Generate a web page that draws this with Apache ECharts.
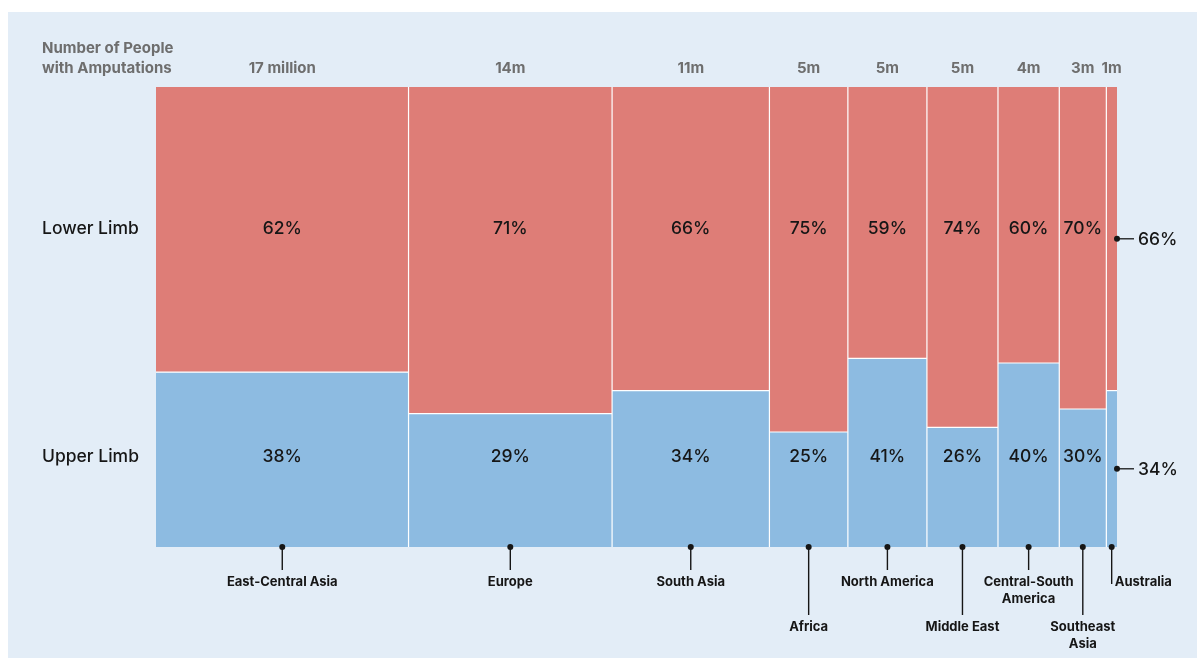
<!DOCTYPE html>
<html><head><meta charset="utf-8">
<script src="https://cdn.jsdelivr.net/npm/echarts@6/dist/echarts.min.js"></script>
<style>html,body{margin:0;padding:0;background:#fff}#c{width:1197px;height:658px}</style>
</head><body><div id="c"></div>
<script>
// ---- data ----
const regions = ['East-Central Asia','Europe','South Asia','Africa','North America','Middle East','Central-South America','Southeast Asia','Australia'];
const regionLabels = ['East-Central Asia','Europe','South Asia','Africa','North America','Middle East','Central-South\nAmerica','Southeast\nAsia','Australia'];
const peopleMillions = [17.06, 13.75, 10.63, 5.30, 5.34, 4.80, 4.14, 3.18, 0.72];
const peopleLabels = ['17 million','14m','11m','5m','5m','5m','4m','3m','1m'];
const lowerLimbPct = [62, 71, 66, 75, 59, 74, 60, 70, 66];
const upperLimbPct = [38, 29, 34, 25, 41, 26, 40, 30, 34];
const rowNames = ['Lower Limb','Upper Limb'];
const headerTitle = 'Number of People\nwith Amputations';

// ---- layout / style ----
const RED = '#de7d77', BLUE = '#8dbbe1', BG = '#e3edf7';
const DARK = '#161616', GRAY = '#6e6e6e';
const FONT = 'Inter, "Noto Sans", sans-serif';
const ROW_Y = [229, 457];
const HEADER_Y = 68;
const longLeader = {'Africa':true,'Middle East':true,'Southeast Asia':true};

let cum = 0;
const cells = peopleMillions.map((v, i) => { const x0 = cum; cum += v; return [x0, cum, upperLimbPct[i], i]; });
const total = cum;

function renderItem(params, api) {
  const i = api.value(3);
  const x0 = api.value(0), x1 = api.value(1), up = api.value(2);
  const tl = api.coord([x0, 100]), br = api.coord([x1, 0]), sp = api.coord([x0, up]);
  const left = tl[0], right = br[0], top = tl[1], bottom = br[1], split = sp[1];
  const w = right - left, cx = (left + right) / 2;
  const ch = [];
  ch.push({type:'rect', shape:{x:left, y:top, width:w, height:split - top}, style:{fill:RED}});
  ch.push({type:'rect', shape:{x:left, y:split, width:w, height:bottom - split}, style:{fill:BLUE}});
  ch.push({type:'line', shape:{x1:left, y1:split, x2:right, y2:split}, style:{stroke:'#fff', lineWidth:1.2}});
  if (i > 0) ch.push({type:'line', shape:{x1:left, y1:top, x2:left, y2:bottom}, style:{stroke:'#fff', lineWidth:1.2}});
  // header label
  ch.push({type:'text', style:{text:peopleLabels[i], x:cx, y:HEADER_Y, align:'center', verticalAlign:'middle',
    fill:GRAY, fontFamily:FONT, fontSize:15, fontWeight:'bold'}});
  // percentages
  if (w > 30) {
    ch.push({type:'text', style:{text:lowerLimbPct[i] + '%', x:cx, y:ROW_Y[0], align:'center', verticalAlign:'middle',
      fill:DARK, fontFamily:FONT, fontSize:17.5, fontWeight:500}});
    ch.push({type:'text', style:{text:upperLimbPct[i] + '%', x:cx, y:ROW_Y[1], align:'center', verticalAlign:'middle',
      fill:DARK, fontFamily:FONT, fontSize:17.5, fontWeight:500}});
  } else {
    const ys = [(top + split) / 2, (split + bottom) / 2];
    const vals = [lowerLimbPct[i], upperLimbPct[i]];
    ys.forEach((y, k) => {
      ch.push({type:'circle', shape:{cx:right, cy:y, r:3}, style:{fill:DARK}});
      ch.push({type:'line', shape:{x1:right, y1:y, x2:right + 17, y2:y}, style:{stroke:DARK, lineWidth:1.3}});
      ch.push({type:'text', style:{text:vals[k] + '%', x:right + 21, y:y + 1, align:'left', verticalAlign:'middle',
        fill:DARK, fontFamily:FONT, fontSize:17.5, fontWeight:500}});
    });
  }
  // bottom region label with leader
  const name = regions[i];
  const isNarrow = w <= 30;
  const long = !!longLeader[name];
  const lineEnd = isNarrow ? bottom + 37 : (long ? bottom + 68 : bottom + 23);
  const textTop = long ? bottom + 71.5 : bottom + 26.5;
  ch.push({type:'line', shape:{x1:cx, y1:bottom, x2:cx, y2:lineEnd}, style:{stroke:DARK, lineWidth:1.4}});
  ch.push({type:'circle', shape:{cx:cx, cy:bottom, r:3}, style:{fill:DARK}});
  ch.push({type:'text', style:{text:regionLabels[i], x:isNarrow ? cx + 3 : cx, y:textTop,
    align:isNarrow ? 'left' : 'center', verticalAlign:'top', lineHeight:17,
    fill:DARK, fontFamily:FONT, fontSize:13, fontWeight:'bold'}});
  return {type:'group', children:ch};
}

const chart = echarts.init(document.getElementById('c'), null, {renderer:'canvas'});
chart.setOption({
  backgroundColor:'#fff',
  animation:false,
  grid:{left:156, right:80, top:87, bottom:111},
  xAxis:{type:'value', min:0, max:total, show:false},
  yAxis:{type:'value', min:0, max:100, show:false},
  graphic:[
    {type:'rect', z:-10, shape:{x:8, y:12, width:1189, height:646}, style:{fill:BG}},
    {type:'text', z:10, x:42, y:58, style:{text:headerTitle, align:'left', verticalAlign:'middle', lineHeight:20,
      fill:GRAY, fontFamily:FONT, fontSize:15, fontWeight:'bold'}},
    {type:'text', z:10, x:42, y:ROW_Y[0], style:{text:rowNames[0], align:'left', verticalAlign:'middle',
      fill:DARK, fontFamily:FONT, fontSize:17.5, fontWeight:500}},
    {type:'text', z:10, x:42, y:ROW_Y[1], style:{text:rowNames[1], align:'left', verticalAlign:'middle',
      fill:DARK, fontFamily:FONT, fontSize:17.5, fontWeight:500}}
  ],
  series:[{
    type:'custom', clip:false, renderItem:renderItem,
    encode:{x:[0,1], y:2},
    data:cells
  }]
});
</script></body></html>
